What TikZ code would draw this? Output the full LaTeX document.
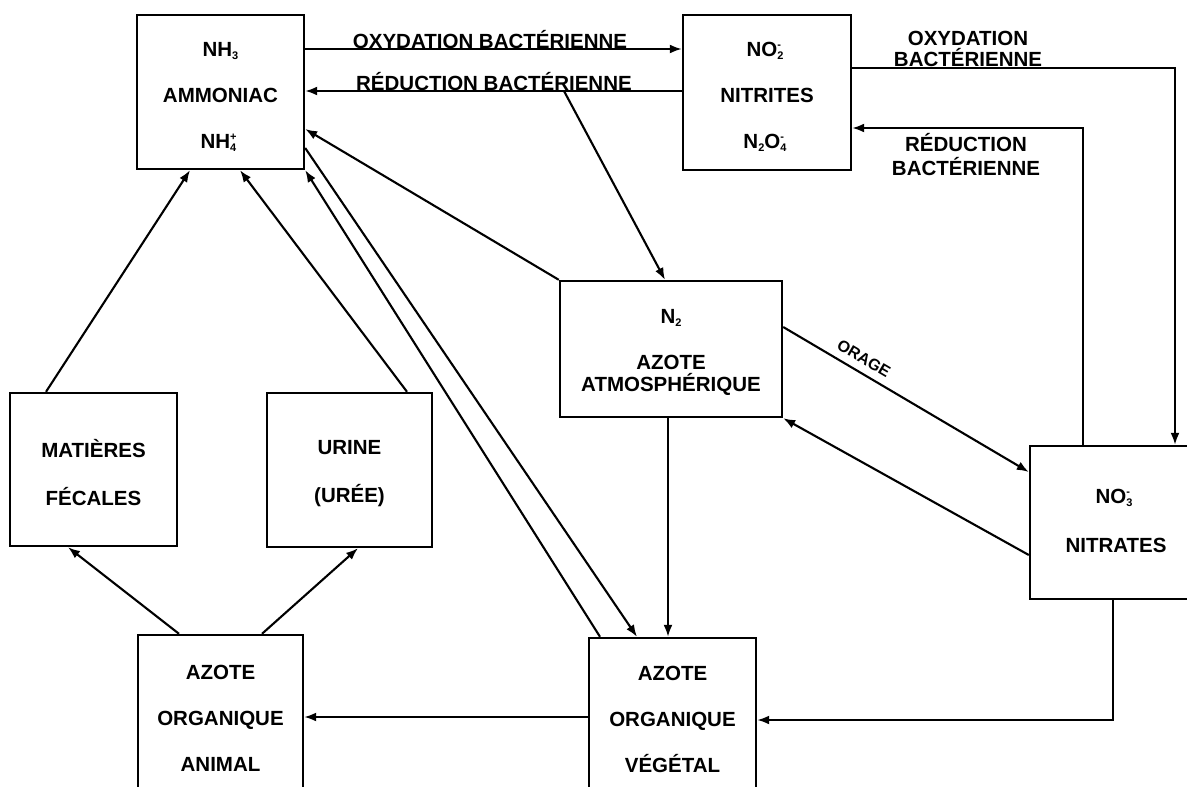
\documentclass[tikz,border=0pt]{standalone}
\usepackage{fontspec}
\setmainfont{Liberation Sans}
\usetikzlibrary{arrows.meta,calc}
\newcommand{\smallfig}{\fontsize{11}{11}\selectfont}
\newcommand{\sbs}[1]{\raisebox{-0.3ex}{\smallfig #1}}
\newcommand{\sbsp}[2]{\makebox[0.5em][l]{\rlap{\raisebox{-0.3ex}{\smallfig #1}}\raisebox{0.75ex}{\smallfig #2}}}
\begin{document}
\begin{tikzpicture}[x=1pt,y=-1pt,
  box/.style={draw, line width=2.4pt, inner sep=0pt},
  txt/.style={align=center, inner sep=0pt, font=\bfseries\fontsize{20.5}{46}\selectfont},
  lbl/.style={inner sep=0pt, align=center, font=\bfseries\fontsize{20.5}{20}\selectfont},
  arr/.style={line width=2.1pt, -{Latex[length=12pt,width=9pt]}},
  ln/.style={line width=2.1pt}]
\useasboundingbox (0,0) rectangle (1187,787);
\clip (0,0) rectangle (1187,787);

% boxes
\node[box, minimum width=167pt, minimum height=154pt] (nh3) at (220.5,92) {};
\node[box, minimum width=168pt, minimum height=155pt] (no2) at (767,92.5) {};
\node[box, minimum width=222pt, minimum height=136pt] (n2) at (671,349) {};
\node[box, minimum width=170pt, minimum height=153pt] (no3) at (1115,522.5) {};
\node[box, minimum width=167pt, minimum height=153pt] (mat) at (93.5,469.5) {};
\node[box, minimum width=165pt, minimum height=154pt] (uri) at (349.5,470) {};
\node[box, minimum width=165pt, minimum height=165pt] (ani) at (220.5,717.5) {};
\node[box, minimum width=167pt, minimum height=162pt] (veg) at (672.5,719) {};

% texts
\node[txt] (nh3-t) at (220.5,97) {NH\sbs{3}\\AMMONIAC\\NH\sbsp{4}{+}};
\node[txt] (no2-t) at (767,97) {NO\sbsp{2}{-}\\NITRITES\\N\sbs{2}O\sbsp{4}{-}};
\node[txt, font=\bfseries\fontsize{20.5}{22}\selectfont] (n2-t) at (671,352) {N\sbs{2}\\[24pt]AZOTE\\ATMOSPHÉRIQUE};
\node[txt, font=\bfseries\fontsize{20.5}{49}\selectfont] (no3-t) at (1116,521) {NO\sbsp{3}{-}\\NITRATES};
\node[txt, font=\bfseries\fontsize{20.5}{48}\selectfont] (mat-t) at (93.5,473) {MATIÈRES\\FÉCALES};
\node[txt, font=\bfseries\fontsize{20.5}{48}\selectfont] (uri-t) at (349.5,474) {URINE\\(URÉE)};
\node[txt] (ani-t) at (220.5,718) {AZOTE\\ORGANIQUE\\ANIMAL};
\node[txt] (veg-t) at (672.5,719) {AZOTE\\ORGANIQUE\\VÉGÉTAL};

% top pair of arrows
\draw[arr] (nh3.east |- 0,49) -- (no2.west |- 0,49);
\node[lbl] (lox1) at (490,40) {OXYDATION BACTÉRIENNE};
\draw[arr] (no2.west |- 0,91) -- (nh3.east |- 0,91);
\node[lbl] (lred1) at (494,82) {RÉDUCTION BACTÉRIENNE};
\coordinate (br) at (564,91);
\draw[arr] (br) -- (n2.north -| 665,0);

% right loop
\draw[arr] (no2.east |- 0,68) -| (no3.north -| 1175,0);
\node[lbl, font=\bfseries\fontsize{20.5}{21.5}\selectfont] (lox2) at (968,49) {OXYDATION\\BACTÉRIENNE};
\draw[arr] (no3.north -| 1083,0) |- (no2.east |- 0,128);
\node[lbl, font=\bfseries\fontsize{20.5}{24}\selectfont] (lred2) at (966,155) {RÉDUCTION\\BACTÉRIENNE};

% N2 links
\draw[arr] (n2.north west) -- (nh3.east |- 0,129);
\draw[arr] (n2.south -| 668,0) -- (veg.north -| 668,0);
\draw[arr] (n2.east |- 0,327) -- node[sloped, above=7pt, pos=0.3, inner sep=0pt, font=\bfseries\fontsize{16}{16}\selectfont] (lorage) {ORAGE} (no3.west |- 0,472);
\draw[arr] (no3.west |- 0,555) -- (n2.south east);

% NH3 <-> vegetal
\draw[arr] (nh3.east |- 0,148) -- (veg.north -| 637,0);
\draw[arr] (veg.north -| 600,0) -- (nh3.south east);

% nitrates -> vegetal -> animal
\draw[arr] (no3.south -| 1113,0) |- (veg.east |- 0,720);
\draw[arr] (veg.west |- 0,717) -- (ani.east |- 0,717);

% animal -> excreta -> NH3
\draw[arr] (ani.north -| 179,0) -- (mat.south -| 68,0);
\draw[arr] (ani.north -| 262,0) -- (uri.south -| 358,0);
\draw[arr] (mat.north -| 46,0) -- (nh3.south -| 190,0);
\draw[arr] (uri.north -| 407,0) -- (nh3.south -| 240,0);
\end{tikzpicture}
\end{document}
